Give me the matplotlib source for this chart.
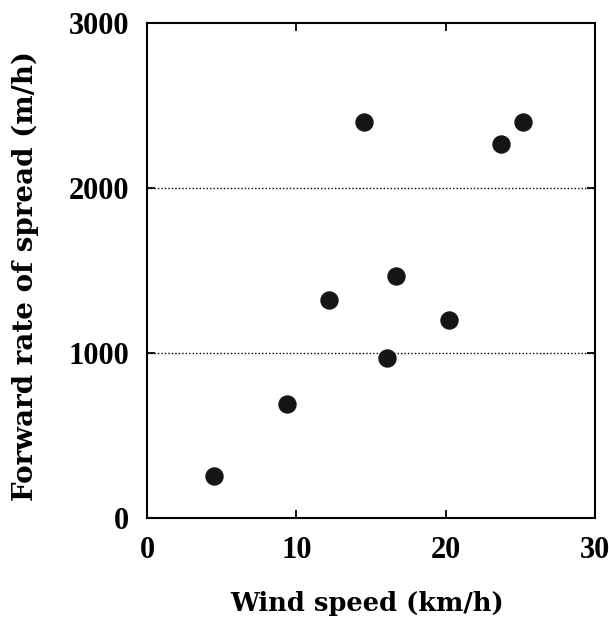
import matplotlib
matplotlib.use("Agg")
import matplotlib.pyplot as plt

# wind speed (km/h) vs forward rate of spread (m/h)
wind_speed = [4.5, 9.4, 12.2, 14.5, 16.7, 16.1, 20.2, 23.7, 25.2]
spread_rate = [255, 690, 1320, 2400, 1467, 970, 1200, 2267, 2400]

xticks = [0, 10, 20, 30]
yticks = [0, 1000, 2000, 3000]
grid_levels = [1000, 2000]

plt.rcParams['font.family'] = ['Liberation Serif', 'DejaVu Serif']
plt.rcParams['font.weight'] = 'bold'

fig = plt.figure(figsize=(6.09, 6.30), dpi=100)
ax = fig.add_axes([0.2414, 0.1778, 0.9770 - 0.2414, 0.9635 - 0.1778])

for g in grid_levels:
    ax.axhline(g, color='black', linestyle=(0, (1, 1.5)), linewidth=1.0, zorder=1)

ax.scatter(wind_speed, spread_rate, s=150, color='#151515', zorder=3)

ax.set_xlim(0, 30)
ax.set_ylim(0, 3000)
ax.set_xticks(xticks)
ax.set_yticks(yticks)
ax.tick_params(direction='in', length=6, width=1.3, top=True, right=True,
               labelsize=22, pad=13)
for lab in ax.get_xticklabels() + ax.get_yticklabels():
    lab.set_fontweight('bold')
for sp in ax.spines.values():
    sp.set_linewidth(1.5)

# the original labels are widely letter-spaced; DejaVu Serif is wider
ax.set_xlabel('Wind speed (km/h)', family=['DejaVu Serif'], fontsize=18.5,
              fontweight='bold')
ax.set_ylabel('Forward rate of spread (m/h)', family=['DejaVu Serif'],
              fontsize=20, fontweight='bold')
ax.xaxis.set_label_coords(0.491, -0.148)
ax.yaxis.set_label_coords(-0.24, 0.489)

fig.savefig('out.png', dpi=100)
